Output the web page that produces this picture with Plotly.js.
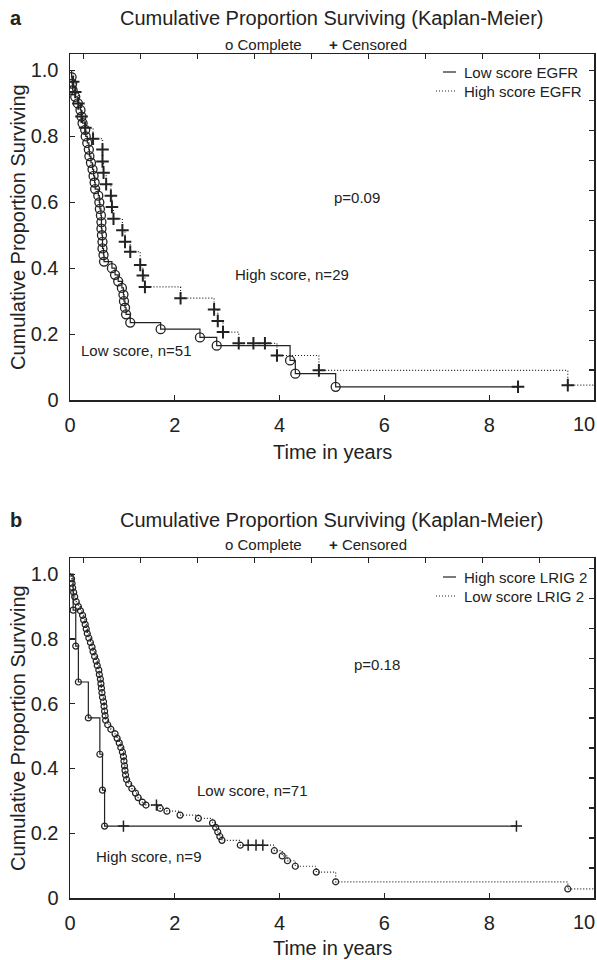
<!DOCTYPE html>
<html>
<head>
<meta charset="utf-8">
<script src="https://cdn.plot.ly/plotly-3.0.1.min.js"></script>
<style>html,body{margin:0;padding:0;background:#fff;}#chart{width:597px;height:960px;}</style>
</head>
<body>
<div id="chart"></div>
<script>
// ---------- DATA ----------
// Panel a: Low score EGFR (n=51) - complete events (circles)
const aLowTime = [0.03,0.04,0.05,0.10,0.15,0.20,0.22,0.24,0.29,0.30,0.33,0.36,0.37,0.40,0.43,0.45,0.47,0.48,0.54,0.56,0.57,0.59,0.60,0.60,0.61,0.62,0.62,0.64,0.65,0.80,0.86,0.92,0.99,1.02,1.03,1.05,1.07,1.15,1.73,2.48,2.80,4.20,4.30,5.07];
const aLowSurv = [0.98,0.96,0.94,0.92,0.90,0.88,0.86,0.84,0.82,0.80,0.78,0.76,0.74,0.72,0.70,0.68,0.66,0.64,0.62,0.60,0.58,0.56,0.54,0.52,0.50,0.48,0.46,0.44,0.42,0.40,0.38,0.36,0.34,0.32,0.30,0.28,0.26,0.235,0.215,0.19,0.165,0.12,0.08,0.04];
const aLowCensTime = [8.55];
const aLowCensSurv = [0.04];
// Panel a: High score EGFR (n=29) - marked with +
const aHighTime = [0.06,0.10,0.16,0.22,0.29,0.44,0.62,0.62,0.64,0.69,0.78,0.80,0.83,1.00,1.05,1.15,1.34,1.39,1.43,2.11,2.75,2.82,2.92,3.22,3.50,3.72,3.95,4.75,9.50];
const aHighSurv = [0.966,0.935,0.90,0.86,0.826,0.793,0.76,0.724,0.69,0.655,0.62,0.586,0.55,0.515,0.48,0.45,0.41,0.378,0.343,0.309,0.275,0.24,0.206,0.172,0.172,0.172,0.135,0.09,0.045];
const aHighFollowEnd = 10;

// Panel b: High score LRIG 2 (n=9)
const bHighTime = [0.06,0.11,0.16,0.35,0.57,0.62,0.66];
const bHighSurv = [0.889,0.778,0.667,0.556,0.444,0.333,0.222];
const bHighCensTime = [1.02,8.52];
const bHighCensSurv = [0.222,0.222];
// Panel b: Low score LRIG 2 (n=71)
const bLowTime = [0.03,0.04,0.05,0.07,0.09,0.12,0.16,0.20,0.24,0.26,0.29,0.31,0.33,0.36,0.39,0.42,0.44,0.47,0.50,0.52,0.55,0.56,0.58,0.59,0.60,0.61,0.62,0.64,0.65,0.66,0.67,0.68,0.72,0.78,0.86,0.90,0.94,0.97,1.00,1.02,1.03,1.04,1.05,1.06,1.08,1.12,1.18,1.25,1.30,1.38,1.45,1.72,1.85,2.10,2.45,2.72,2.78,2.82,2.86,2.90,3.25,3.90,4.05,4.15,4.30,4.70,5.07,9.50];
const bLowSurv = [0.986,0.972,0.958,0.944,0.930,0.915,0.900,0.887,0.873,0.859,0.845,0.831,0.817,0.803,0.789,0.775,0.761,0.746,0.732,0.718,0.704,0.690,0.676,0.662,0.648,0.634,0.620,0.606,0.592,0.577,0.563,0.549,0.535,0.521,0.507,0.493,0.479,0.465,0.451,0.437,0.423,0.408,0.394,0.380,0.366,0.352,0.338,0.324,0.310,0.296,0.287,0.277,0.268,0.256,0.246,0.232,0.218,0.204,0.190,0.178,0.163,0.146,0.130,0.115,0.098,0.080,0.050,0.028];
const bLowCensTime = [1.65,3.40,3.55,3.68];
const bLowCensSurv = [0.287,0.163,0.163,0.163];
const bLowFollowEnd = 10;

const xTickVals=[0,2,4,6,8];
const xLastTick='10';
const yTickVals=[0,0.2,0.4,0.6,0.8,1.0];
const yTickText=['0','0.2','0.4','0.6','0.8','1.0'];

// ---------- helpers ----------
const INK = '#222';
const FONT = 'Liberation Sans, Arial, Helvetica, sans-serif';
const DOTS = '1px,2px';
function merge(t1, s1, t2, s2) {
  const pts = t1.map((t,i)=>[t,s1[i]]).concat(t2.map((t,i)=>[t,s2[i]]));
  pts.sort((a,b)=>a[0]-b[0]);
  return pts;
}
function stepTrace(pts, endT, dash, xa, ya) {
  const x=[0], y=[1];
  pts.forEach(p=>{x.push(p[0]); y.push(p[1]);});
  if (endT !== null) { x.push(endT); y.push(y[y.length-1]); }
  return {type:'scatter', mode:'lines', x:x, y:y, xaxis:xa, yaxis:ya,
    line:{shape:'hv', color:INK, width:1.2, dash:dash}, showlegend:false, hoverinfo:'skip'};
}
function markTrace(t, s, sym, size, lw, xa, ya) {
  return {type:'scatter', mode:'markers', x:t, y:s, xaxis:xa, yaxis:ya, showlegend:false, hoverinfo:'skip',
    marker:{symbol:sym, size:size, color:INK, line:{color:INK, width:lw}}};
}

const traces = [
  stepTrace(merge(aLowTime,aLowSurv,aLowCensTime,aLowCensSurv), null, 'solid', 'x', 'y'),
  markTrace(aLowTime, aLowSurv, 'circle-open', 9, 1.3, 'x', 'y'),
  markTrace(aLowCensTime, aLowCensSurv, 'cross-thin', 9, 2, 'x', 'y'),
  stepTrace(merge(aHighTime,aHighSurv,[],[]), aHighFollowEnd, DOTS, 'x', 'y'),
  markTrace(aHighTime, aHighSurv, 'cross-thin', 9, 2, 'x', 'y'),

  stepTrace(merge(bHighTime,bHighSurv,bHighCensTime,bHighCensSurv), null, 'solid', 'x2', 'y2'),
  markTrace(bHighTime, bHighSurv, 'circle-open', 6, 1.2, 'x2', 'y2'),
  markTrace(bHighCensTime, bHighCensSurv, 'cross-thin', 8, 1.5, 'x2', 'y2'),
  stepTrace(merge(bLowTime,bLowSurv,bLowCensTime,bLowCensSurv), bLowFollowEnd, DOTS, 'x2', 'y2'),
  markTrace(bLowTime, bLowSurv, 'circle-open', 6, 1.2, 'x2', 'y2'),
  markTrace(bLowCensTime, bLowCensSurv, 'cross-thin', 8, 1.5, 'x2', 'y2'),
  // carriers for the frame tick axes
  {type:'scatter', x:[], y:[], xaxis:'x3', yaxis:'y', showlegend:false, hoverinfo:'skip'},
  {type:'scatter', x:[], y:[], xaxis:'x', yaxis:'y3', showlegend:false, hoverinfo:'skip'},
  {type:'scatter', x:[], y:[], xaxis:'x4', yaxis:'y2', showlegend:false, hoverinfo:'skip'},
  {type:'scatter', x:[], y:[], xaxis:'x2', yaxis:'y4', showlegend:false, hoverinfo:'skip'}
];

// layout geometry (pixels -> paper)
const ML=70, MR=3, MT=54, MB=62, W=597, H=960;
const PW=W-ML-MR, PH=H-MT-MB;
const PX = X => (X-ML)/PW;
const PY = Y => (H-MB-Y)/PH;

function mainX(anchor){
  return {anchor:anchor, range:[0,10], tickvals:xTickVals, ticks:'inside', ticklen:5, tickwidth:1.2, tickcolor:INK,
    showline:true, linecolor:INK, linewidth:1.5, mirror:true, showgrid:false, zeroline:false,
    ticklabelstandoff:6, tickfont:{family:FONT, size:20, color:INK}, fixedrange:true};
}
function mainY(anchor, dom){
  return {anchor:anchor, domain:dom, range:[0,1.05], tickvals:yTickVals, ticktext:yTickText, ticks:'inside', ticklen:5, tickwidth:1.2, tickcolor:INK,
    showline:true, linecolor:INK, linewidth:1.5, mirror:true, showgrid:false, zeroline:false,
    ticklabelstandoff:6, tickfont:{family:FONT, size:20, color:INK}, fixedrange:true};
}
function topX(over, anchor){
  return {overlaying:over, anchor:anchor, side:'top', range:[0,10], tickmode:'linear', tick0:0.254, dtick:1.088,
    ticks:'inside', ticklen:5, tickwidth:1.2, tickcolor:INK, showticklabels:false, showline:false, showgrid:false, zeroline:false};
}
function rightY(over, anchor, dt){
  return {overlaying:over, anchor:anchor, side:'right', range:[0,1.05], tickmode:'linear', tick0:0, dtick:dt,
    ticks:'inside', ticklen:5, tickwidth:1.2, tickcolor:INK, showticklabels:false, showline:false, showgrid:false, zeroline:false};
}

const domA=[PY(400),1], domB=[0,PY(558)];

function ann(text, x, y, size, extra){
  return Object.assign({text:text, x:x, y:y, xref:'paper', yref:'paper', showarrow:false,
    font:{family:FONT, size:size, color:INK}, xanchor:'center', yanchor:'middle'}, extra||{});
}
function dann(text, x, y, xr, yr){
  return {text:text, x:x, y:y, xref:xr, yref:yr, showarrow:false, font:{family:FONT, size:15, color:INK}, xanchor:'center', yanchor:'middle'};
}

const annotations = [
  ann('<b>a</b>', PX(8), PY(18), 20, {xanchor:'left'}),
  ann('Cumulative Proportion Surviving (Kaplan-Meier)', PX(332), PY(18), 20),
  ann('o Complete', PX(263), PY(44), 15),
  ann('<b>+</b> Censored', PX(368), PY(44), 15),
  ann('Cumulative Proportion Surviving', PX(18), PY(227), 20, {textangle:-90}),
  ann('Time in years', PX(332), PY(452), 20),
  ann(xLastTick, PX(597), PY(424), 20, {xanchor:'right'}),
  ann('Low score EGFR', PX(462), PY(72), 15, {xanchor:'left'}),
  ann('High score EGFR', PX(462), PY(91), 15, {xanchor:'left'}),
  dann('p=0.09', 5.48, 0.616, 'x', 'y'),
  dann('High score, n=29', 4.23, 0.38, 'x', 'y'),
  dann('Low score, n=51', 1.27, 0.15, 'x', 'y'),

  ann('<b>b</b>', PX(8), PY(520), 20, {xanchor:'left'}),
  ann('Cumulative Proportion Surviving (Kaplan-Meier)', PX(332), PY(520), 20),
  ann('o Complete', PX(263), PY(544), 15),
  ann('<b>+</b> Censored', PX(368), PY(544), 15),
  ann('Cumulative Proportion Surviving', PX(18), PY(728), 20, {textangle:-90}),
  ann('Time in years', PX(332), PY(948), 20),
  ann(xLastTick, PX(597), PY(922), 20, {xanchor:'right'}),
  ann('High score LRIG 2', PX(462), PY(577), 15, {xanchor:'left'}),
  ann('Low score LRIG 2', PX(462), PY(596), 15, {xanchor:'left'}),
  dann('p=0.18', 5.86, 0.72, 'x2', 'y2'),
  dann('Low score, n=71', 3.49, 0.333, 'x2', 'y2'),
  dann('High score, n=9', 1.49, 0.127, 'x2', 'y2')
];

function legLine(x0, x1, Y, dash){
  return {type:'line', xref:'paper', yref:'paper', x0:PX(x0), x1:PX(x1), y0:PY(Y), y1:PY(Y), line:{color:INK, width:1.2, dash:dash}};
}
const shapes = [
  legLine(443, 456, 72, 'solid'), legLine(436, 456, 91, DOTS),
  legLine(443, 456, 577, 'solid'), legLine(436, 456, 596, DOTS)
];

const layout = {
  width:W, height:H, margin:{l:ML, r:MR, t:MT, b:MB}, paper_bgcolor:'#fff', plot_bgcolor:'#fff',
  showlegend:false, font:{family:FONT, color:INK},
  xaxis: mainX('y'), yaxis: mainY('x', domA),
  xaxis2: mainX('y2'), yaxis2: mainY('x2', domB),
  xaxis3: topX('x','y'), yaxis3: rightY('y','x',0.0908),
  xaxis4: topX('x2','y2'), yaxis4: rightY('y2','x2',0.0926),
  annotations: annotations, shapes: shapes
};

Plotly.newPlot('chart', traces, layout, {displayModeBar:false, staticPlot:true});
</script>
</body>
</html>
